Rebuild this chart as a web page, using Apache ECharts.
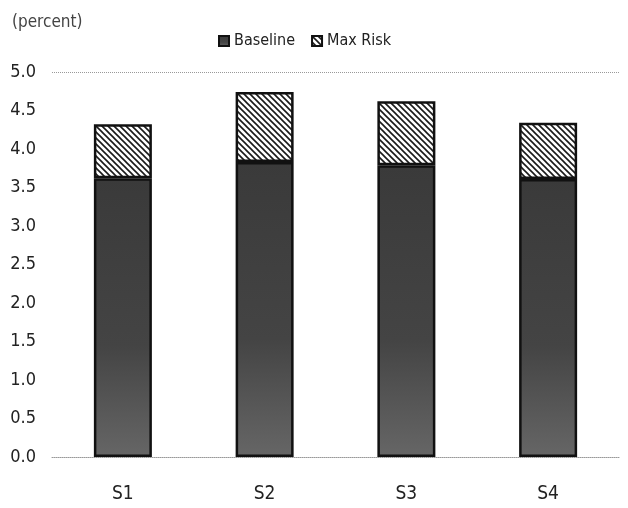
<!DOCTYPE html>
<html>
<head>
<meta charset="utf-8">
<script src="https://cdn.jsdelivr.net/npm/echarts@6/dist/echarts.min.js"></script>
<style>html,body{margin:0;padding:0;background:#fff}#c{width:628px;height:508px}</style>
</head>
<body>
<div id="c"></div>
<script>
const categories = ['S1', 'S2', 'S3', 'S4'];
const baseline = [3.62, 3.83, 3.79, 3.61];
const maxRiskAdd = [0.70, 0.91, 0.83, 0.73];
const seriesNames = ['Baseline', 'Max Risk'];
const unitLabel = '(percent)';

const FONT = "'DejaVu Sans Condensed', 'Liberation Sans Narrow', sans-serif";

function hatch() {
  const c = document.createElement('canvas');
  c.width = 6; c.height = 6;
  const g = c.getContext('2d');
  g.fillStyle = '#fff'; g.fillRect(0, 0, 6, 6);
  g.strokeStyle = '#1a1a1a'; g.lineWidth = 1.6;
  g.beginPath();
  g.moveTo(-3, -3); g.lineTo(9, 9);
  g.moveTo(-3, 3); g.lineTo(3, 9);
  g.moveTo(3, -3); g.lineTo(9, 3);
  g.stroke();
  return c;
}

const splitColors = [];
for (let i = 0; i < 10; i++) splitColors.push('rgba(0,0,0,0)');
splitColors.push('#999');

const chart = echarts.init(document.getElementById('c'), null, {renderer: 'canvas'});
chart.setOption({
  animation: false,
  backgroundColor: '#fff',
  title: {
    text: unitLabel, left: 7, top: 9,
    textStyle: {fontFamily: FONT, fontSize: 17, fontWeight: 'normal', color: '#444'}
  },
  legend: {
    top: 28, left: 213, itemWidth: 10, itemHeight: 10, itemGap: 16,
    icon: 'rect',
    textStyle: {fontFamily: FONT, fontSize: 16, color: '#222'},
    data: seriesNames
  },
  grid: {left: 52, right: 9, top: 72, bottom: 51, containLabel: false},
  xAxis: {
    type: 'category', data: categories,
    axisLine: {show: true, lineStyle: {color: '#999', type: 'dotted', width: 1}},
    axisTick: {show: false},
    axisLabel: {fontFamily: FONT, fontSize: 19, color: '#222', margin: 28}
  },
  yAxis: {
    type: 'value', min: 0, max: 5, interval: 0.5,
    axisLine: {show: false}, axisTick: {show: false},
    axisLabel: {fontFamily: FONT, fontSize: 18, color: '#222', margin: 16,
      formatter: v => v.toFixed(1)},
    splitLine: {show: true, lineStyle: {color: splitColors, type: 'dotted', width: 1}}
  },
  series: [
    {
      name: seriesNames[0], type: 'bar', stack: 's', data: baseline, barWidth: 58,
      itemStyle: {
        color: new echarts.graphic.LinearGradient(0, 0, 0, 1, [
          {offset: 0, color: '#3a3a3a'}, {offset: 0.6, color: '#444'}, {offset: 1, color: '#666'}
        ]),
        borderColor: '#111', borderWidth: 2.5
      }
    },
    {
      name: seriesNames[1], type: 'bar', stack: 's', data: maxRiskAdd, barWidth: 58,
      itemStyle: {
        color: {image: hatch(), repeat: 'repeat'},
        borderColor: '#111', borderWidth: 2.5
      }
    }
  ]
});
</script>
</body>
</html>
